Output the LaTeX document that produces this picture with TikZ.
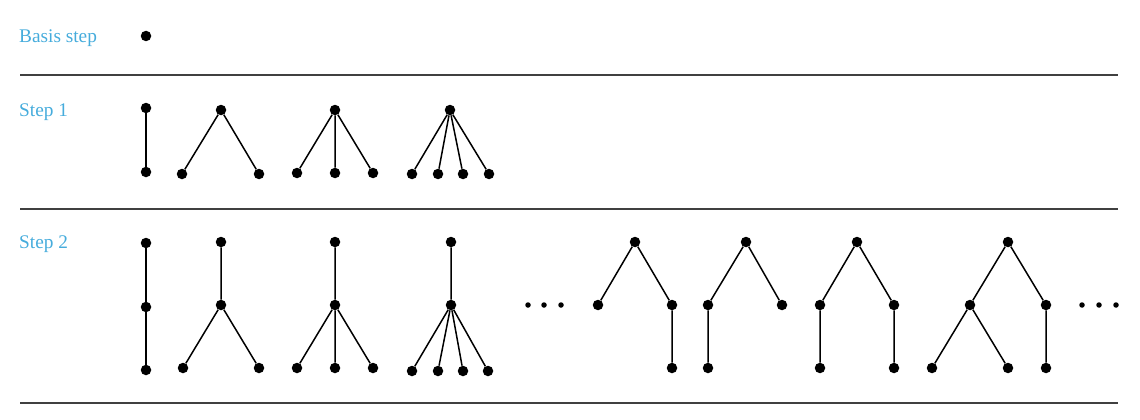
\documentclass[tikz,border=0pt]{standalone}
\usepackage{fontspec}
\setmainfont{Liberation Serif}
\definecolor{steplabel}{RGB}{70,172,220}
\begin{document}
\begin{tikzpicture}[x=1pt,y=-1pt,
  vtx/.style={circle,fill=black,inner sep=0pt,minimum size=10.5pt},
  sdot/.style={circle,fill=black,inner sep=0pt,minimum size=5.5pt},
  edge/.style={line width=1.5pt},
  rule/.style={line width=1.6pt,draw=black!75},
  lbl/.style={anchor=base west,inner sep=0pt,text=steplabel,font=\fontsize{19.3}{23}\selectfont}]
\useasboundingbox (0,0) rectangle (1140,420);
% labels
\node[lbl] (lb) at (19,43) {Basis step};
\node[lbl] (l1) at (19,116) {Step 1};
\node[lbl] (l2) at (19,248) {Step 2};
% rules
\coordinate (r1a) at (20,75); \coordinate (r1b) at (1118,75);
\coordinate (r2a) at (20,209); \coordinate (r2b) at (1118,209);
\coordinate (r3a) at (20,403); \coordinate (r3b) at (1118,403);
\draw[rule] (r1a) -- (r1b);
\draw[rule] (r2a) -- (r2b);
\draw[rule] (r3a) -- (r3b);
% basis
\node[vtx] (b0) at (146,36) {};
% step 1
\node[vtx] (a1) at (146,108) {};
\node[vtx] (a2) at (146,172) {};
\draw[edge] (a1) -- (a2);
\node[vtx] (bA) at (221,110) {};
\node[vtx] (bB) at (182,174) {};
\node[vtx] (bC) at (259,174) {};
\draw[edge] (bA) -- (bB) (bA) -- (bC);
\node[vtx] (cA) at (335,110) {};
\node[vtx] (cB) at (297,173) {};
\node[vtx] (cC) at (335,173) {};
\node[vtx] (cD) at (373,173) {};
\draw[edge] (cA) -- (cB) (cA) -- (cC) (cA) -- (cD);
\node[vtx] (dA) at (450,110) {};
\node[vtx] (dB) at (412,174) {};
\node[vtx] (dC) at (438,174) {};
\node[vtx] (dD) at (463,174) {};
\node[vtx] (dE) at (489,174) {};
\draw[edge] (dA) -- (dB) (dA) -- (dC) (dA) -- (dD) (dA) -- (dE);
% step 2
\node[vtx] (e1) at (146,243) {};
\node[vtx] (e2) at (146,307) {};
\node[vtx] (e3) at (146,370) {};
\draw[edge] (e1) -- (e2) (e2) -- (e3);
\node[vtx] (f1) at (221,242) {};
\node[vtx] (f2) at (221,305) {};
\node[vtx] (f3) at (183,368) {};
\node[vtx] (f4) at (259,368) {};
\draw[edge] (f1) -- (f2) (f2) -- (f3) (f2) -- (f4);
\node[vtx] (g1) at (335,242) {};
\node[vtx] (g2) at (335,305) {};
\node[vtx] (g3) at (297,368) {};
\node[vtx] (g4) at (335,368) {};
\node[vtx] (g5) at (373,368) {};
\draw[edge] (g1) -- (g2) (g2) -- (g3) (g2) -- (g4) (g2) -- (g5);
\node[vtx] (h1) at (451,242) {};
\node[vtx] (h2) at (451,305) {};
\node[vtx] (h3) at (412,371) {};
\node[vtx] (h4) at (438,371) {};
\node[vtx] (h5) at (463,371) {};
\node[vtx] (h6) at (488,371) {};
\draw[edge] (h1) -- (h2) (h2) -- (h3) (h2) -- (h4) (h2) -- (h5) (h2) -- (h6);
% ellipsis
\node[sdot] (p1) at (528,305) {};
\node[sdot] (p2) at (544,305) {};
\node[sdot] (p3) at (561,305) {};
% tree 5
\node[vtx] (i1) at (635,242) {};
\node[vtx] (i2) at (598,305) {};
\node[vtx] (i3) at (672,305) {};
\node[vtx] (i4) at (672,368) {};
\draw[edge] (i1) -- (i2) (i1) -- (i3) (i3) -- (i4);
% tree 6
\node[vtx] (j1) at (746,242) {};
\node[vtx] (j2) at (708,305) {};
\node[vtx] (j3) at (782,305) {};
\node[vtx] (j4) at (708,368) {};
\draw[edge] (j1) -- (j2) (j1) -- (j3) (j2) -- (j4);
% tree 7
\node[vtx] (k1) at (857,242) {};
\node[vtx] (k2) at (820,305) {};
\node[vtx] (k3) at (894,305) {};
\node[vtx] (k4) at (820,368) {};
\node[vtx] (k5) at (894,368) {};
\draw[edge] (k1) -- (k2) (k1) -- (k3) (k2) -- (k4) (k3) -- (k5);
% tree 8
\node[vtx] (m1) at (1008,242) {};
\node[vtx] (m2) at (970,305) {};
\node[vtx] (m3) at (1046,305) {};
\node[vtx] (m4) at (932,368) {};
\node[vtx] (m5) at (1008,368) {};
\node[vtx] (m6) at (1046,368) {};
\draw[edge] (m1) -- (m2) (m1) -- (m3) (m2) -- (m4) (m2) -- (m5) (m3) -- (m6);
% ellipsis
\node[sdot] (q1) at (1082,305) {};
\node[sdot] (q2) at (1099,305) {};
\node[sdot] (q3) at (1116,305) {};
\end{tikzpicture}
\end{document}
